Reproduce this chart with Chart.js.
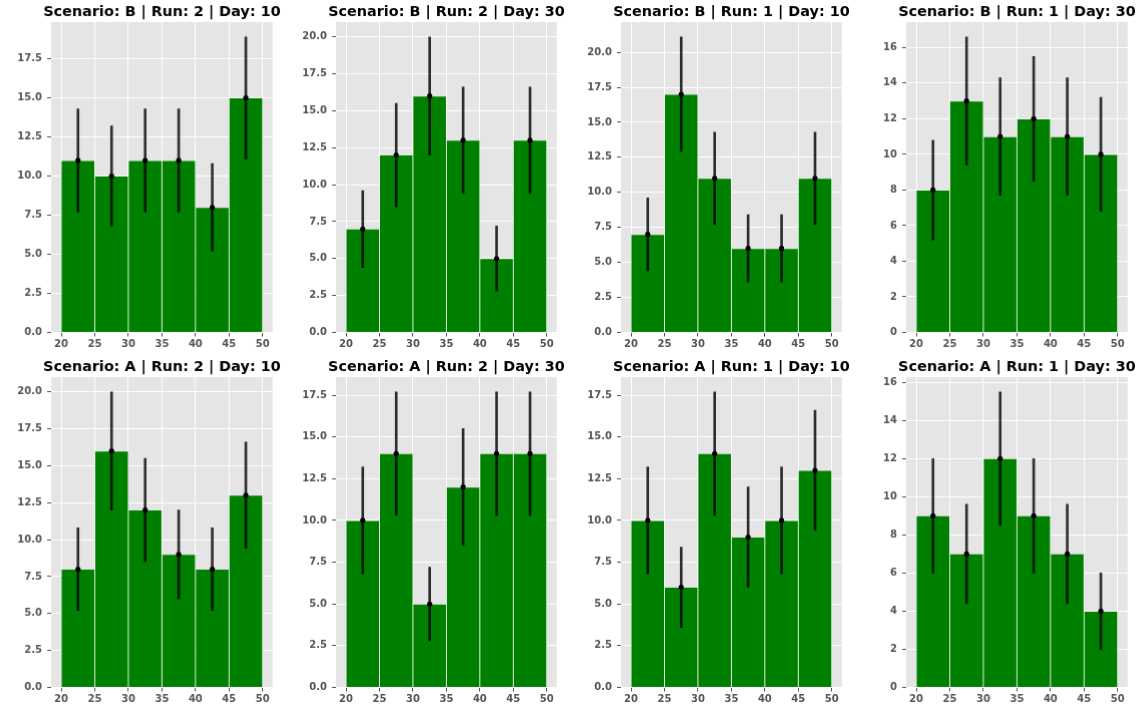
<!DOCTYPE html>
<html>
<head>
<meta charset="utf-8">
<script src="https://cdn.jsdelivr.net/npm/chart.js@4/dist/chart.umd.min.js"></script>
<style>
  html, body { margin: 0; padding: 0; background: #fff; overflow: hidden; }
  body { width: 1143px; height: 717px; position: relative; }
  .panel { position: absolute; }
</style>
</head>
<body>
<script>
// histogram bins (left edge 20, width 5)
const binCenters = [22.5, 27.5, 32.5, 37.5, 42.5, 47.5];
const xTicks = [20, 25, 30, 35, 40, 45, 50];

const titles = [
  "Scenario: B | Run: 2 | Day: 10",
  "Scenario: B | Run: 2 | Day: 30",
  "Scenario: B | Run: 1 | Day: 10",
  "Scenario: B | Run: 1 | Day: 30",
  "Scenario: A | Run: 2 | Day: 10",
  "Scenario: A | Run: 2 | Day: 30",
  "Scenario: A | Run: 1 | Day: 10",
  "Scenario: A | Run: 1 | Day: 30",
];

const countsB2D10 = [11, 10, 11, 11, 8, 15];
const countsB2D30 = [7, 12, 16, 13, 5, 13];
const countsB1D10 = [7, 17, 11, 6, 6, 11];
const countsB1D30 = [8, 13, 11, 12, 11, 10];
const countsA2D10 = [8, 16, 12, 9, 8, 13];
const countsA2D30 = [10, 14, 5, 12, 14, 14];
const countsA1D10 = [10, 6, 14, 9, 10, 13];
const countsA1D30 = [9, 7, 12, 9, 7, 4];

const errB2D10 = [3.3, 3.2, 3.3, 3.3, 2.8, 3.9];
const errB2D30 = [2.6, 3.5, 4.0, 3.6, 2.2, 3.6];
const errB1D10 = [2.6, 4.1, 3.3, 2.4, 2.4, 3.3];
const errB1D30 = [2.8, 3.6, 3.3, 3.5, 3.3, 3.2];
const errA2D10 = [2.8, 4.0, 3.5, 3.0, 2.8, 3.6];
const errA2D30 = [3.2, 3.7, 2.2, 3.5, 3.7, 3.7];
const errA1D10 = [3.2, 2.4, 3.7, 3.0, 3.2, 3.6];
const errA1D30 = [3.0, 2.6, 3.5, 3.0, 2.6, 2.0];

const yTickSteps = [2.5, 2.5, 2.5, 2, 2.5, 2.5, 2.5, 2];

const allCounts = [countsB2D10, countsB2D30, countsB1D10, countsB1D30,
                   countsA2D10, countsA2D30, countsA1D10, countsA1D30];
const allErrs = [errB2D10, errB2D30, errB1D10, errB1D30,
                 errA2D10, errA2D30, errA1D10, errA1D30];

// layout of the axes boxes (px)
const colLeft = [50.8, 335.6, 620.5, 905.8];
const rowTop = [22, 377];
const axW = 220.8, axH = 309.5;
const yW = 45, titleH = 22, xH = 24;

const bgPlugin = {
  id: "axesBg",
  beforeDraw(chart) {
    const a = chart.chartArea, ctx = chart.ctx;
    ctx.save();
    ctx.fillStyle = "#E5E5E5";
    ctx.fillRect(a.left, a.top, a.right - a.left, a.bottom - a.top);
    ctx.restore();
  },
};

const tickFont = { family: "DejaVu Sans", size: 10, weight: "bold" };
const tickColor = "#555";

function makePanel(i) {
  const counts = allCounts[i], errs = allErrs[i], step = yTickSteps[i];
  const col = i % 4, row = Math.floor(i / 4);

  const div = document.createElement("div");
  div.className = "panel";
  div.style.left = (colLeft[col] - yW) + "px";
  div.style.top = (rowTop[row] - titleH) + "px";
  div.style.width = (yW * 2 + axW) + "px";
  div.style.height = (titleH + axH + xH) + "px";
  const canvas = document.createElement("canvas");
  div.appendChild(canvas);
  document.body.appendChild(div);

  const tops = counts.map((c, j) => c + errs[j]);
  const yMax = Math.max(...tops) * 1.05;

  new Chart(canvas, {
    type: "bar",
    data: {
      datasets: [
        {
          type: "line",
          data: counts.map((c, j) => ({ x: binCenters[j], y: c })),
          showLine: false,
          pointRadius: 2.6,
          pointBorderWidth: 0,
          pointBackgroundColor: "#000",
          order: 1,
        },
        {
          data: counts.map((c, j) => ({ x: binCenters[j], y: [c - errs[j], c + errs[j]] })),
          backgroundColor: "rgba(0,0,0,0.8)",
          grouped: false,
          maxBarThickness: 2,
          barPercentage: 1,
          categoryPercentage: 1,
          order: 2,
        },
        {
          data: counts.map((c, j) => ({ x: binCenters[j], y: c })),
          backgroundColor: "#008000",
          borderColor: "rgba(220,240,220,0.45)",
          borderWidth: 0.8,
          grouped: false,
          barPercentage: 1,
          categoryPercentage: 1,
          order: 3,
        },
      ],
    },
    options: {
      responsive: true,
      maintainAspectRatio: false,
      animation: false,
      layout: { padding: 0 },
      plugins: {
        legend: { display: false },
        tooltip: { enabled: false },
        title: {
          display: true,
          text: titles[i],
          color: "#000",
          font: { family: "DejaVu Sans", size: 14.4, weight: "bold", lineHeight: "17px" },
          padding: { top: 4, bottom: 1 },
        },
      },
      scales: {
        x: {
          type: "linear",
          offset: false,
          min: 18.5,
          max: 51.5,
          afterBuildTicks: (s) => { s.ticks = xTicks.map((v) => ({ value: v })); },
          afterFit: (s) => { s.height = xH; },
          ticks: { color: tickColor, font: tickFont, padding: 2, maxRotation: 0, autoSkip: false },
          grid: { offset: false, color: "#fff", lineWidth: 1, tickColor: "#555", tickLength: 4 },
          border: { display: false },
        },
        y: {
          type: "linear",
          position: "left",
          min: 0,
          max: yMax,
          afterBuildTicks: (s) => {
            const t = [];
            for (let k = 0; k * step <= s.max; k++) t.push({ value: k * step });
            s.ticks = t;
          },
          afterFit: (s) => { s.width = yW; },
          ticks: {
            color: tickColor,
            font: tickFont,
            padding: 5,
            autoSkip: false,
            callback: (v) => (step % 1 ? v.toFixed(1) : String(v)),
          },
          grid: { color: "#fff", lineWidth: 1, tickColor: "#555", tickLength: 4 },
          border: { display: false },
        },
        yr: {
          type: "linear",
          position: "right",
          display: true,
          afterFit: (s) => { s.width = yW; },
          ticks: { display: false },
          grid: { display: false },
          border: { display: false },
        },
      },
    },
    plugins: [bgPlugin],
  });
}

for (let i = 0; i < 8; i++) makePanel(i);
</script>
</body>
</html>
